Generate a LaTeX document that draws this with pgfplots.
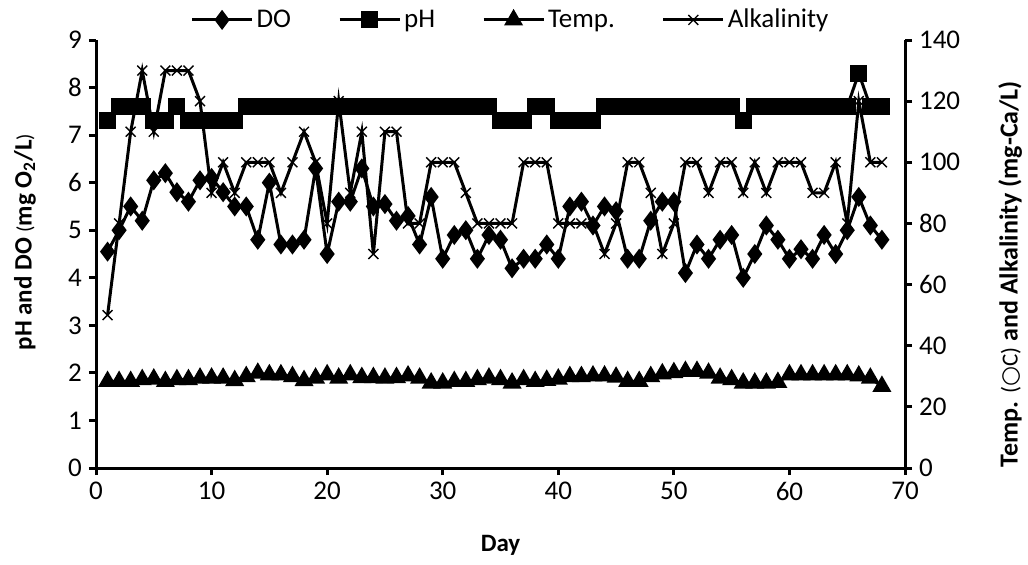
\documentclass[border=0pt]{standalone}
\usepackage{pgfplots}
\usepackage{pgfplotstable}
\pgfplotsset{compat=1.18}
\usepackage{fontspec}
\setmainfont{Carlito}
\newfontfamily\dejavu{DejaVu Sans}

\pgfplotstableread{
day DO pH
1 4.55 7.3
2 5.0 7.6
3 5.5 7.6
4 5.2 7.6
5 6.05 7.3
6 6.2 7.3
7 5.8 7.6
8 5.6 7.3
9 6.05 7.3
10 6.1 7.3
11 5.8 7.3
12 5.5 7.3
13 5.5 7.6
14 4.8 7.6
15 6.0 7.6
16 4.7 7.6
17 4.7 7.6
18 4.8 7.6
19 6.3 7.6
20 4.5 7.6
21 5.6 7.6
22 5.6 7.6
23 6.3 7.6
24 5.5 7.6
25 5.55 7.6
26 5.2 7.6
27 5.3 7.6
28 4.7 7.6
29 5.7 7.6
30 4.4 7.6
31 4.9 7.6
32 5.0 7.6
33 4.4 7.6
34 4.9 7.6
35 4.8 7.3
36 4.2 7.3
37 4.4 7.3
38 4.4 7.6
39 4.7 7.6
40 4.4 7.3
41 5.5 7.3
42 5.6 7.3
43 5.1 7.3
44 5.5 7.6
45 5.4 7.6
46 4.4 7.6
47 4.4 7.6
48 5.2 7.6
49 5.6 7.6
50 5.6 7.6
51 4.1 7.6
52 4.7 7.6
53 4.4 7.6
54 4.8 7.6
55 4.9 7.6
56 4.0 7.3
57 4.5 7.6
58 5.1 7.6
59 4.8 7.6
60 4.4 7.6
61 4.6 7.6
62 4.4 7.6
63 4.9 7.6
64 4.5 7.6
65 5.0 7.6
66 5.7 8.3
67 5.1 7.6
68 4.8 7.6
}\leftdata

\pgfplotstableread{
day temp alk
1 28.3 50
2 28.3 80
3 28.3 110
4 28.9 130
5 29.1 110
6 28.3 130
7 28.9 130
8 28.9 130
9 29.4 120
10 29.4 90
11 29.4 100
12 28.6 90
13 29.9 100
14 31.0 100
15 30.5 100
16 30.5 90
17 29.9 100
18 28.6 110
19 29.4 100
20 30.5 80
21 29.4 120
22 30.5 90
23 29.6 110
24 29.6 70
25 29.4 110
26 29.6 110
27 30.1 80
28 29.4 80
29 27.8 100
30 27.8 100
31 28.3 100
32 28.3 90
33 28.9 80
34 29.4 80
35 28.9 80
36 27.8 80
37 28.9 100
38 28.3 100
39 28.7 100
40 29.1 80
41 29.9 80
42 29.9 80
43 30.1 80
44 30.1 70
45 29.7 80
46 28.3 100
47 28.3 100
48 29.9 90
49 30.8 70
50 31.2 80
51 31.6 100
52 31.6 100
53 31.0 90
54 29.4 100
55 28.9 100
56 27.8 90
57 27.8 100
58 27.8 90
59 28.0 100
60 30.5 100
61 30.5 100
62 30.5 90
63 30.5 90
64 30.5 100
65 30.5 80
66 30.1 120
67 29.4 100
68 26.7 100
}\rightdata

\begin{document}
\begin{tikzpicture}
\pgfplotsset{
  common/.style={
    scale only axis, width=404.5pt, height=214pt,
    xmin=0, xmax=70,
    /pgf/number format/assume math mode=true,
    tick align=outside, major tick length=3.5pt,
    every tick/.style={black, line width=1.5pt},
    tick label style={font=\fontsize{13.5}{15}\selectfont},
    axis line style={line width=1.5pt},
    label style={font=\fontsize{12.5}{14}\selectfont},
    legend image code/.code={\draw[mark repeat=2,mark phase=2,##1] plot coordinates {(0pt,0pt) (15pt,0pt) (30pt,0pt)};},
  },
  doS/.style={black, line width=1.5pt, mark=diamond*, mark size=3.8pt, mark options={solid, fill=black}},
  phS/.style={black, line width=1.5pt, mark=square*, mark size=3.5pt, mark options={solid, fill=black}},
  tS/.style={black, line width=1.5pt, mark=triangle*, mark size=4pt, mark options={solid, fill=black}},
  aS/.style={black, line width=1.5pt, mark=x, mark size=3.5pt, mark options={solid, line width=0.7pt}},
}
\begin{axis}[common,
  axis x line*=bottom, axis y line*=left,
  ymin=0, ymax=9, ytick={0,1,...,9},
  xtick={0,10,...,70},
  xlabel={\textbf{Day}},
  xlabel style={at={(axis description cs:0.5,-0.18)}, anchor=center},
  ylabel={\textbf{pH and DO }{\fontsize{10.5}{12}\selectfont(}\textbf{mg O\textsubscript{2}/L}{\fontsize{10.5}{12}\selectfont)}},
  ylabel style={at={(axis description cs:-0.0878,0.528)}, anchor=center},
]
\addplot[doS] table[x=day,y=DO]{\leftdata};
\addplot[phS] table[x=day,y=pH]{\leftdata};
\coordinate (sw) at (rel axis cs:0,0);
\coordinate (ne) at (rel axis cs:1,1);
\end{axis}
\begin{axis}[common,
  axis x line=none, axis y line*=right,
  ymin=0, ymax=140, ytick={0,20,...,140},
  ylabel={\textbf{Temp. }{\fontsize{11.5}{14}\selectfont(\dejavu ○\normalfont C)}\textbf{ and Alkalinity (mg-Ca/L)}},
  ylabel style={at={(axis description cs:1.13,0.453)}, anchor=center, font=\fontsize{13}{15}\selectfont},
  legend style={at={(axis description cs:0.513,1.047)}, anchor=center, draw=none, fill=none,
    legend columns=-1, font=\fontsize{13.5}{15}\selectfont,
    nodes={inner xsep=1.5pt}},
]
\addlegendimage{doS}\addlegendentry{DO\kern22pt}
\addlegendimage{phS}\addlegendentry{pH\kern22pt}
\addplot[tS] table[x=day,y=temp]{\rightdata}; \addlegendentry{Temp.\kern22pt}
\addplot[aS] table[x=day,y=alk]{\rightdata}; \addlegendentry{Alkalinity}
\end{axis}
\pgfresetboundingbox
\path[use as bounding box] ([xshift=-48pt,yshift=-48pt]sw) rectangle ([xshift=61.5pt,yshift=20pt]ne);
\end{tikzpicture}
\end{document}
